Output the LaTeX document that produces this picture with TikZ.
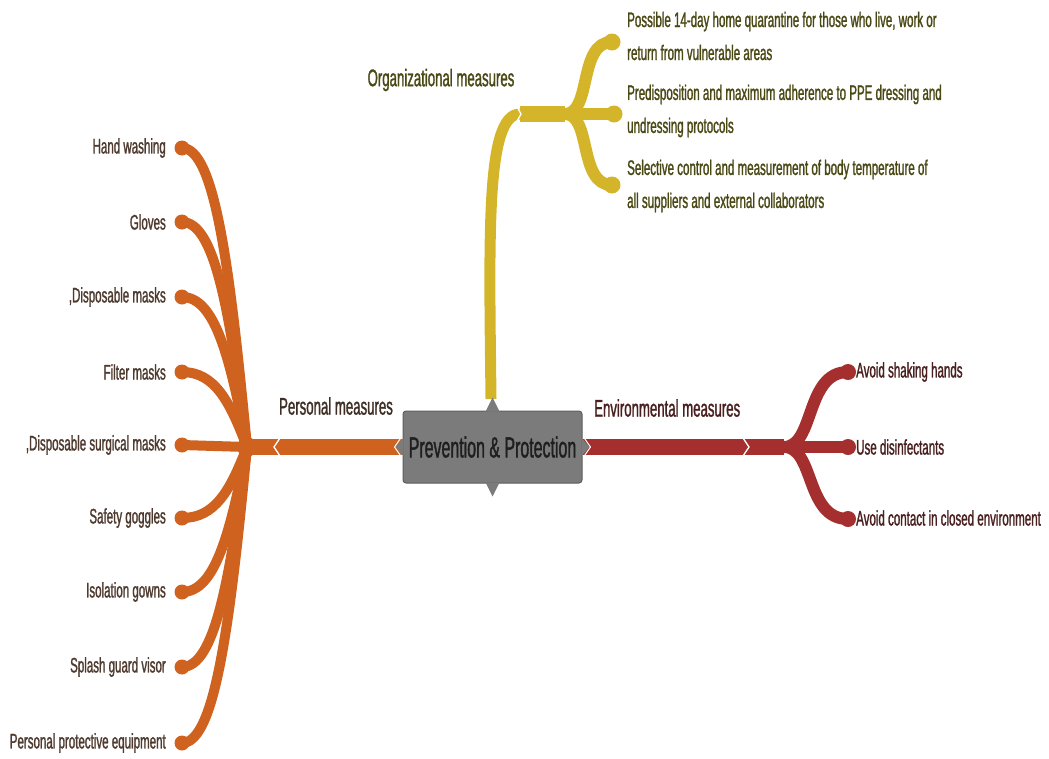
\documentclass[tikz,border=0pt]{standalone}
\usepackage{fontspec}
\newfontfamily\nf[FakeStretch=0.55,FakeBold=1.2]{Liberation Sans}
\definecolor{perso}{HTML}{D0621F}
\definecolor{orgc}{HTML}{D4B52A}
\definecolor{envc}{HTML}{A52E2E}
\definecolor{boxc}{HTML}{7B7B7B}
\definecolor{boxd}{HTML}{5E5E5E}
\definecolor{ptext}{HTML}{4E3A2E}
\definecolor{otext}{HTML}{4A4814}
\definecolor{etext}{HTML}{4A1F1F}
\begin{document}
\begin{tikzpicture}[x=1pt,y=-1pt,
  leafL/.style={anchor=east,text=ptext,font=\nf\fontsize{21}{24}\selectfont,inner sep=0pt},
  leafR/.style={anchor=west,text=etext,font=\nf\fontsize{21}{24}\selectfont,inner sep=0pt},
  leafO/.style={anchor=west,text=otext,font=\nf\fontsize{21}{33}\selectfont,inner sep=0pt,align=left},
  mainlbl/.style={font=\nf\fontsize{24}{26}\selectfont,inner sep=0pt},
  twig/.style={line width=10pt,line cap=round},
  trunkline/.style={line width=16pt},
  blob/.style={circle,minimum size=15pt,inner sep=0pt,fill},
  chev/.style={white,line width=1.3pt},
]
\useasboundingbox (0,0) rectangle (1049,758);

% centre
\node[draw=boxd, fill=boxc, rounded corners=3pt, minimum width=179pt, minimum height=72pt,
      line width=1pt, inner sep=0pt, text=black!88, font=\nf\fontsize{29}{31}\selectfont] (c) at (492.5,447) {Prevention \& Protection};

% ---------------- Personal measures ----------------
\coordinate (phub) at (247,447);
\coordinate (pchev) at (275,447);
\draw[perso, trunkline] (phub) -- (c.west);

\node[leafL] (l1) at (166,148) {Hand washing};
\node[leafL] (l2) at (166,222) {Gloves};
\node[leafL] (l3) at (166,297) {,Disposable masks};
\node[leafL] (l4) at (166,372) {Filter masks};
\node[leafL] (l5) at (166,445) {,Disposable surgical masks};
\node[leafL] (l6) at (166,518) {Safety goggles};
\node[leafL] (l7) at (166,592) {Isolation gowns};
\node[leafL] (l8) at (166,667) {Splash guard visor};
\node[leafL] (l9) at (166,743) {Personal protective equipment};

\foreach \i/\yy in {1/148,2/222,3/297,4/372,5/445,6/518,7/592,8/667,9/743}
  \node[blob, perso] (b\i) at (182,\yy) {};

\begin{scope}[perso, twig]
\draw (b1.center) .. controls +(33,0) and +(-17,-179) .. (phub);
\draw (b2.center) .. controls +(33,0) and +(-17,-135) .. (phub);
\draw (b3.center) .. controls +(33,0) and +(-17,-90) .. (phub);
\draw (b4.center) .. controls +(33,0) and +(-17,-45) .. (phub);
\draw (b5.center) -- (phub);
\draw (b6.center) .. controls +(33,0) and +(-17,44) .. (phub);
\draw (b7.center) .. controls +(33,0) and +(-17,87) .. (phub);
\draw (b8.center) .. controls +(33,0) and +(-17,132) .. (phub);
\draw (b9.center) .. controls +(33,0) and +(-17,178) .. (phub);
\end{scope}
\fill[perso] (phub) circle (10);
\draw[chev] (pchev) ++(5,-9) -- ++(-6,9) -- ++(6,9);
\node[mainlbl, text=ptext!80!black] (plbl) at (336,406) {Personal measures};

% ---------------- Organizational measures ----------------
\coordinate (otop) at (491,399);
\coordinate (ojoin) at (520,114);
\coordinate (ohub) at (565,114);
\draw[orgc, line width=11pt] (otop) .. controls (489,230) and (486,114) .. (ojoin);
\draw[orgc, trunkline] (ojoin) -- (ohub);
\node[blob, orgc, minimum size=17pt] (ob1) at (612,42) {};
\node[blob, orgc, minimum size=17pt] (ob2) at (614,114) {};
\node[blob, orgc, minimum size=17pt] (ob3) at (612,185) {};
\begin{scope}[orgc, line width=12pt, line cap=round]
\draw (ohub) .. controls (592,114) and (578,42) .. (ob1.center);
\draw (ohub) -- (ob2.center);
\draw (ohub) .. controls (592,114) and (578,185) .. (ob3.center);
\end{scope}
\draw[chev] (ojoin) ++(-4,-9) -- ++(5,9) -- ++(-5,9);
\node[mainlbl, text=otext] (olbl) at (441,80) {Organizational measures};

\node[leafO] (o1) at (627,36) {Possible 14-day home quarantine for those who live, work or\\return from vulnerable areas};
\node[leafO] (o2) at (627,111) {Predisposition and maximum adherence to PPE dressing and\\undressing protocols};
\node[leafO] (o3) at (627,186) {Selective control and measurement of body temperature of\\all suppliers and external collaborators};

% ---------------- Environmental measures ----------------
\coordinate (ehub) at (784,447);
\coordinate (echev) at (747,447);
\draw[envc, trunkline] (c.east) -- (ehub);
\node[blob, envc, minimum size=16pt] (eb1) at (848,372) {};
\node[blob, envc, minimum size=16pt] (eb2) at (848,447) {};
\node[blob, envc, minimum size=16pt] (eb3) at (848,519) {};
\begin{scope}[envc, line width=12pt, line cap=round]
\draw (ehub) .. controls (815,447) and (805,372) .. (eb1.center);
\draw (ehub) -- (eb2.center);
\draw (ehub) .. controls (815,447) and (805,519) .. (eb3.center);
\end{scope}
\draw[chev] (echev) ++(-4,-9) -- ++(6,9) -- ++(-6,9);
\node[mainlbl, text=etext, anchor=west] (elbl) at (594,408) {Environmental measures};

\node[leafR] (e1) at (856,372) {Avoid shaking hands};
\node[leafR] (e2) at (856,447) {Use disinfectants};
\node[leafR] (e3) at (856,518) {Avoid contact in closed environment};

% box pointers
\fill[boxc] (c.west) ++(1,-9) -- ++(-8,9) -- ++(8,9) -- cycle;
\draw[white, line width=1pt] (c.west) ++(-1,-10) -- ++(-7,10) -- ++(7,10);
\fill[boxc] (c.east) ++(-1,-9) -- ++(8,9) -- ++(-8,9) -- cycle;
\draw[white, line width=1pt] (c.east) ++(1,-10) -- ++(7,10) -- ++(-7,10);
\fill[boxc] (c.north) ++(-7,1) -- ++(7,-14) -- ++(7,14) -- cycle;
\fill[boxc] (c.south) ++(-7,-1) -- ++(7,14) -- ++(7,-14) -- cycle;
\end{tikzpicture}
\end{document}
